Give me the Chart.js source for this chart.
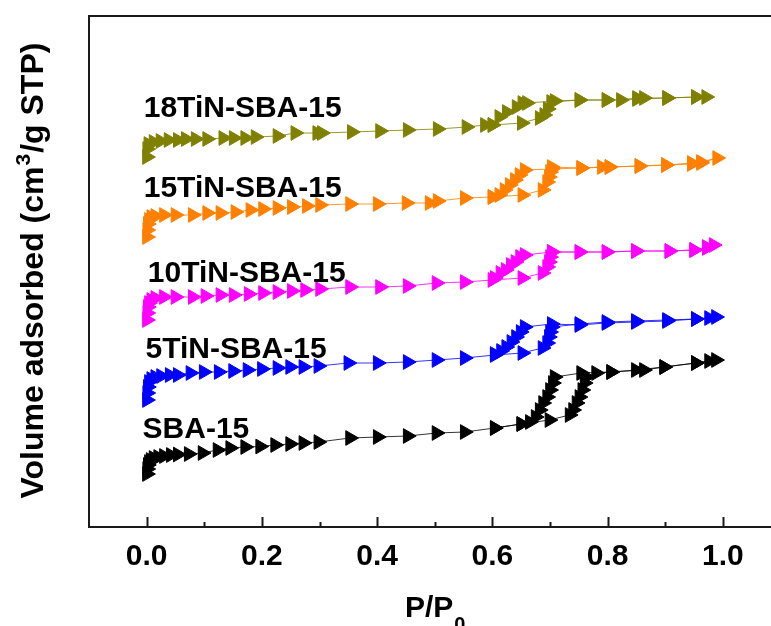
<!DOCTYPE html>
<html>
<head>
<meta charset="utf-8">
<script src="https://cdn.jsdelivr.net/npm/chart.js@4.4.0/dist/chart.umd.min.js"></script>
<style>
  html, body { margin: 0; padding: 0; background: #fff; overflow: hidden; }
  #wrap { width: 790px; height: 626px; }
</style>
</head>
<body>
<div id="wrap"><canvas id="chart" width="790" height="626"></canvas></div>
<script>
// N2 isotherms, P/P0 vs volume (stacked, arbitrary offsets)
const sbaAdsX = [0.0005,0.001,0.002,0.004,0.007,0.012,0.02,0.03,0.042,0.054,0.073,0.097,0.123,0.145,0.171,0.197,0.223,0.249,0.272,0.298,0.353,0.401,0.453,0.503,0.552,0.604,0.650,0.699,0.734,0.740,0.746,0.751,0.756,0.760,0.763,0.780,0.806,0.849,0.898,0.953,0.988];
const sbaAdsY = [53,58,62,65,67,69,70,71,72,72.5,73,74,77,79,80,80.5,82,83,84,85,89,90,91,94,95,99,103,107,112,117,124,130,137,144,150,154,155,157,160,164,167];
const sbaDesX = [0.976,0.953,0.898,0.863,0.806,0.754,0.708,0.705,0.700,0.695,0.688,0.682,0.675,0.665,0.650,0.604];
const sbaDesY = [166,164,160,157,155,154,150,144,137,130,124,117,110,105,103,99];

const ti5AdsX = [0.0005,0.001,0.002,0.004,0.008,0.015,0.025,0.04,0.054,0.076,0.099,0.125,0.15,0.175,0.2,0.227,0.249,0.272,0.298,0.35,0.401,0.453,0.503,0.552,0.604,0.652,0.687,0.695,0.698,0.700,0.703,0.751,0.798,0.849,0.903,0.953,0.988];
const ti5AdsY = [127,134,140,145,148,150,151,152,152,154,155,155,156,157,158,159,160,160,161,164,164,165,167,169,172,174,179,184,190,195,200,203,205,206,207,208,210];
const ti5DesX = [0.976,0.953,0.903,0.849,0.798,0.751,0.703,0.656,0.649,0.641,0.633,0.624,0.615,0.604];
const ti5DesY = [209,208,206,205,204,202,203,200,195,190,185,180,176,173];

const ti10AdsX = [0.0005,0.001,0.002,0.004,0.008,0.015,0.03,0.05,0.08,0.102,0.128,0.151,0.177,0.202,0.227,0.252,0.275,0.301,0.353,0.405,0.453,0.503,0.552,0.600,0.652,0.687,0.695,0.698,0.700,0.703,0.751,0.798,0.849,0.907,0.950,0.972,0.984];
const ti10AdsY = [207,214,220,224,227,229,230,230,230,231,232,232,233,234,235,236,237,238,240,240,241,244,245,247,249,254,260,265,270,275,275,275,276,276,277,280,282];
const ti10DesX = [0.972,0.950,0.907,0.849,0.798,0.751,0.703,0.656,0.648,0.640,0.632,0.623,0.614,0.604];
const ti10DesY = [279,277,276,276,275,275,275,272,270,265,262,257,254,249];

const ti15AdsX = [0.0005,0.001,0.002,0.004,0.008,0.015,0.03,0.05,0.08,0.105,0.128,0.154,0.18,0.202,0.227,0.252,0.278,0.301,0.353,0.401,0.451,0.491,0.505,0.552,0.600,0.652,0.687,0.695,0.698,0.700,0.703,0.754,0.79,0.803,0.855,0.901,0.946,0.962,0.99];
const ti15AdsY = [290,297,303,307,310,311,312,312,312,314,314,315,317,318,319,320,321,322,323,323,324,324,326,329,330,332,337,345,350,355,360,359,360,360,361,362,364,365,369];
const ti15DesX = [0.962,0.946,0.901,0.855,0.803,0.754,0.703,0.656,0.647,0.639,0.630,0.621,0.612,0.600];
const ti15DesY = [364,363,362,361,360,359,358,357,352,347,342,337,332,330];

const ti18AdsX = [0.0005,0.001,0.003,0.012,0.024,0.038,0.054,0.068,0.085,0.105,0.133,0.151,0.171,0.189,0.227,0.258,0.296,0.304,0.356,0.405,0.453,0.505,0.555,0.587,0.600,0.651,0.682,0.690,0.696,0.702,0.751,0.798,0.823,0.851,0.863,0.903,0.953,0.971];
const ti18AdsY = [370,378,383,385,386,387,387,388,388,388,389,389,389,390,391,394,394,394,395,396,397,398,400,402,402,404,409,412,418,425,427,427,427,429,429,429,430,430];
const ti18DesX = [0.953,0.903,0.851,0.798,0.751,0.708,0.660,0.652,0.642,0.625,0.612,0.600];
const ti18DesY = [430,429,428,427,427,426,424,424,420,415,410,402];

const seriesNames = ["SBA-15", "5TiN-SBA-15", "10TiN-SBA-15", "15TiN-SBA-15", "18TiN-SBA-15"];
const seriesColors = ["#000000", "#0000ff", "#ff00ff", "#ff8000", "#808000"];
const majorTicks = [0, 0.2, 0.4, 0.6, 0.8, 1.0];
const minorTicks = [0.1, 0.3, 0.5, 0.7, 0.9];

// where the sample names sit (left edge, baseline) in data units
const labelX = [-0.007, -0.002, 0.002, -0.005, -0.005];
const labelY = [89, 169, 245, 330, 410];

const FONT = '"Liberation Sans", Arial, sans-serif';

const branches = [
  [sbaAdsX, sbaAdsY, sbaDesX, sbaDesY],
  [ti5AdsX, ti5AdsY, ti5DesX, ti5DesY],
  [ti10AdsX, ti10AdsY, ti10DesX, ti10DesY],
  [ti15AdsX, ti15AdsY, ti15DesX, ti15DesY],
  [ti18AdsX, ti18AdsY, ti18DesX, ti18DesY]
];

const toPts = (xs, ys) => xs.map((x, i) => ({ x: x, y: ys[i] }));

const datasets = branches.map((b, i) => ({
  label: seriesNames[i],
  data: toPts(b[0], b[1]).concat(toPts(b[2], b[3])),
  showLine: true,
  borderColor: seriesColors[i],
  borderWidth: 0.8,
  backgroundColor: seriesColors[i],
  pointStyle: "triangle",
  rotation: 90,
  pointRadius: 8.5,
  pointBorderWidth: 1,
  pointBorderColor: seriesColors[i],
  pointBackgroundColor: seriesColors[i]
}));

const decor = {
  id: "decor",
  afterDraw(chart) {
    const { ctx, chartArea: a, scales: { x, y } } = chart;
    ctx.save();

    // frame
    ctx.strokeStyle = "#1a1a1a";
    ctx.lineWidth = 2;
    ctx.strokeRect(a.left, a.top, a.right - a.left, a.bottom - a.top);

    // inward ticks
    const tick = (v, len) => {
      const px = Math.round(x.getPixelForValue(v)) + 0.5;
      ctx.beginPath();
      ctx.moveTo(px, a.bottom);
      ctx.lineTo(px, a.bottom - len);
      ctx.stroke();
    };
    majorTicks.forEach(v => tick(v, 10));
    minorTicks.forEach(v => tick(v, 5));

    // sample names
    ctx.fillStyle = "#000";
    ctx.textBaseline = "alphabetic";
    ctx.textAlign = "left";
    ctx.font = "bold 30px " + FONT;
    seriesNames.forEach((n, i) => {
      ctx.fillText(n, x.getPixelForValue(labelX[i]), y.getPixelForValue(labelY[i]));
    });

    // x title P/P0
    const big = "bold 30px " + FONT, small = "bold 20px " + FONT;
    ctx.font = big;
    const w1 = ctx.measureText("P/P").width;
    ctx.font = small;
    const w2 = ctx.measureText("0").width;
    let sx = (a.left + a.right) / 2 - (w1 + w2) / 2;
    const by = a.bottom + 90;
    ctx.font = big;
    ctx.fillText("P/P", sx, by);
    ctx.font = small;
    ctx.fillText("0", sx + w1 + 1, by + 14);

    // y title
    const yBig = "bold 32px " + FONT, ySmall = "bold 21px " + FONT;
    ctx.save();
    ctx.translate(a.left - 46, (a.top + a.bottom) / 2);
    ctx.rotate(-Math.PI / 2);
    const p1 = "Volume adsorbed (cm", p2 = "3", p3 = "/g STP)";
    ctx.font = yBig;
    const m1 = ctx.measureText(p1).width, m3 = ctx.measureText(p3).width;
    ctx.font = ySmall;
    const m2 = ctx.measureText(p2).width;
    let tx = -(m1 + m2 + m3) / 2;
    ctx.font = yBig;
    ctx.fillText(p1, tx, 0);
    ctx.font = ySmall;
    ctx.fillText(p2, tx + m1 + 1, -13);
    ctx.font = yBig;
    ctx.fillText(p3, tx + m1 + m2 + 2, 0);
    ctx.restore();

    ctx.restore();
  }
};

new Chart(document.getElementById("chart"), {
  type: "scatter",
  data: { datasets: datasets },
  options: {
    responsive: false,
    animation: false,
    events: [],
    layout: { padding: { left: 89, right: 8, top: 16, bottom: 0 } },
    plugins: { legend: { display: false }, tooltip: { enabled: false } },
    scales: {
      x: {
        type: "linear",
        min: -0.1,
        max: 1.1,
        grid: { display: false, drawTicks: false },
        border: { display: false },
        afterBuildTicks: s => { s.ticks = majorTicks.map(v => ({ value: v })); },
        afterFit: s => { s.height = 99; },
        ticks: {
          padding: 12,
          color: "#000",
          maxRotation: 0,
          font: { family: FONT, size: 30, weight: "bold" },
          callback: v => Number(v).toFixed(1)
        }
      },
      y: { type: "linear", min: 0, max: 511, display: false }
    }
  },
  plugins: [decor]
});
</script>
</body>
</html>
